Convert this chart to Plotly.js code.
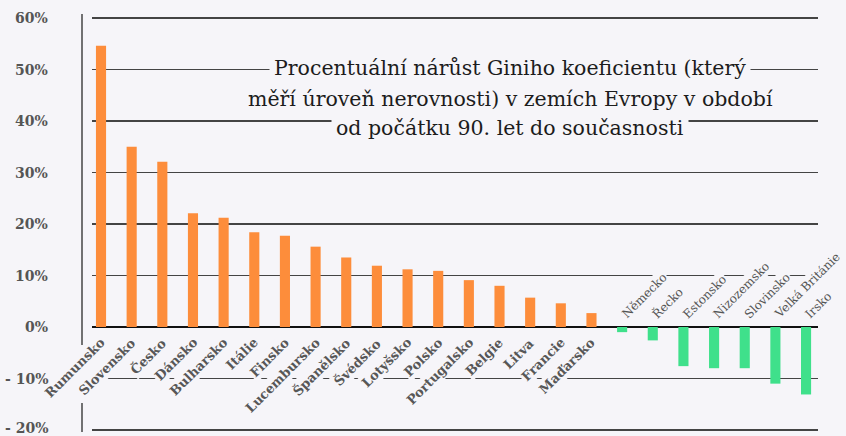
<!DOCTYPE html>
<html>
<head>
<meta charset="utf-8">
<script src="https://cdn.plot.ly/plotly-3.0.1.min.js"></script>
<style>html,body{margin:0;padding:0;background:#f6f5f9;}#chart{width:846px;height:436px;}</style>
</head>
<body>
<div id="chart"></div>
<script>
const countries = ["Rumunsko","Slovensko","Česko","Dánsko","Bulharsko","Itálie","Finsko","Lucembursko","Španělsko","Švédsko","Lotyšsko","Polsko","Portugalsko","Belgie","Litva","Francie","Maďarsko","Německo","Řecko","Estonsko","Nizozemsko","Slovinsko","Velká Británie","Irsko"];
const giniChange = [0.546,0.350,0.321,0.221,0.212,0.184,0.177,0.156,0.135,0.119,0.112,0.109,0.091,0.080,0.057,0.046,0.027,-0.010,-0.026,-0.076,-0.080,-0.080,-0.110,-0.131];
const tickValues = [0.6,0.5,0.4,0.3,0.2,0.1,0,-0.1,-0.2];
const tickLabels = ["60%","50%","40%","30%","20%","10%","0%","- 10%","- 20%"];
const titleLines = ["Procentuální nárůst Giniho koeficientu (který","měří úroveň nerovnosti) v zemích Evropy v období","od počátku 90. let do současnosti"];

const BG = "#f6f5f9";
const ORANGE = "#fd8d3b";
const GREEN = "#3fe08b";

const trace = {
  type: "bar",
  x: countries,
  y: giniChange,
  marker: {color: giniChange.map(v => v >= 0 ? ORANGE : GREEN)},
  hoverinfo: "x+y"
};

const annotations = [];
countries.forEach((c, i) => {
  const pos = giniChange[i] >= 0;
  annotations.push({
    x: i, y: 0, xref: "x", yref: "y",
    text: c, showarrow: false, textangle: -45,
    xanchor: pos ? "right" : "left",
    yanchor: pos ? "top" : "bottom",
    xshift: pos ? 10 : -6,
    yshift: pos ? -5 : 3,
    bgcolor: BG, borderpad: 1,
    font: pos ? {family: "DejaVu Serif", size: 13, color: "#575757", weight: "bold"}
              : {family: "DejaVu Serif", size: 12, color: "#555555"}
  });
});
tickValues.forEach((v, k) => {
  annotations.push({
    x: -42/726, y: v, xref: "paper", yref: "y",
    text: tickLabels[k], showarrow: false, xanchor: "right", yanchor: "middle",
    yshift: v <= -0.2 ? 2 : 0,
    font: {family: "DejaVu Serif", size: 14, color: "#555555", weight: "bold"}
  });
});
const titleY = [0.503, 0.443, 0.386];
titleLines.forEach((t, k) => {
  annotations.push({
    x: 0.5758, y: titleY[k], xref: "paper", yref: "y",
    text: t, showarrow: false, xanchor: "center", yanchor: "middle",
    bgcolor: BG, borderpad: 4,
    font: {family: "DejaVu Serif", size: 20.5, color: "#1c1c1c"}
  });
});

const axX = -10/726;
const shapes = [
  {type: "line", xref: "paper", yref: "paper", x0: axX, x1: axX, y0: 0.2133, y1: 0.9976, line: {color: "#444", width: 1.5}},
  {type: "line", xref: "paper", yref: "paper", x0: axX, x1: axX, y0: 0.0071, y1: 0.0758, line: {color: "#444", width: 1.5}}
];

const layout = {
  width: 846, height: 436,
  margin: {l: 92, r: 28, t: 13, b: 1, pad: 0},
  paper_bgcolor: BG, plot_bgcolor: BG,
  showlegend: false,
  bargap: 0.67,
  xaxis: {
    type: "category", range: [-0.294, 23.39],
    showticklabels: false, showgrid: false, zeroline: false, showline: false, ticks: ""
  },
  yaxis: {
    range: [-0.2097, 0.6097],
    tickvals: tickValues, showticklabels: false, ticks: "",
    showgrid: true, gridcolor: "#444444", gridwidth: 1.5,
    zeroline: true, zerolinecolor: "#111111", zerolinewidth: 2.5,
    showline: false
  },
  annotations: annotations,
  shapes: shapes
};

Plotly.newPlot("chart", [trace], layout, {displayModeBar: false, staticPlot: true});
</script>
</body>
</html>
